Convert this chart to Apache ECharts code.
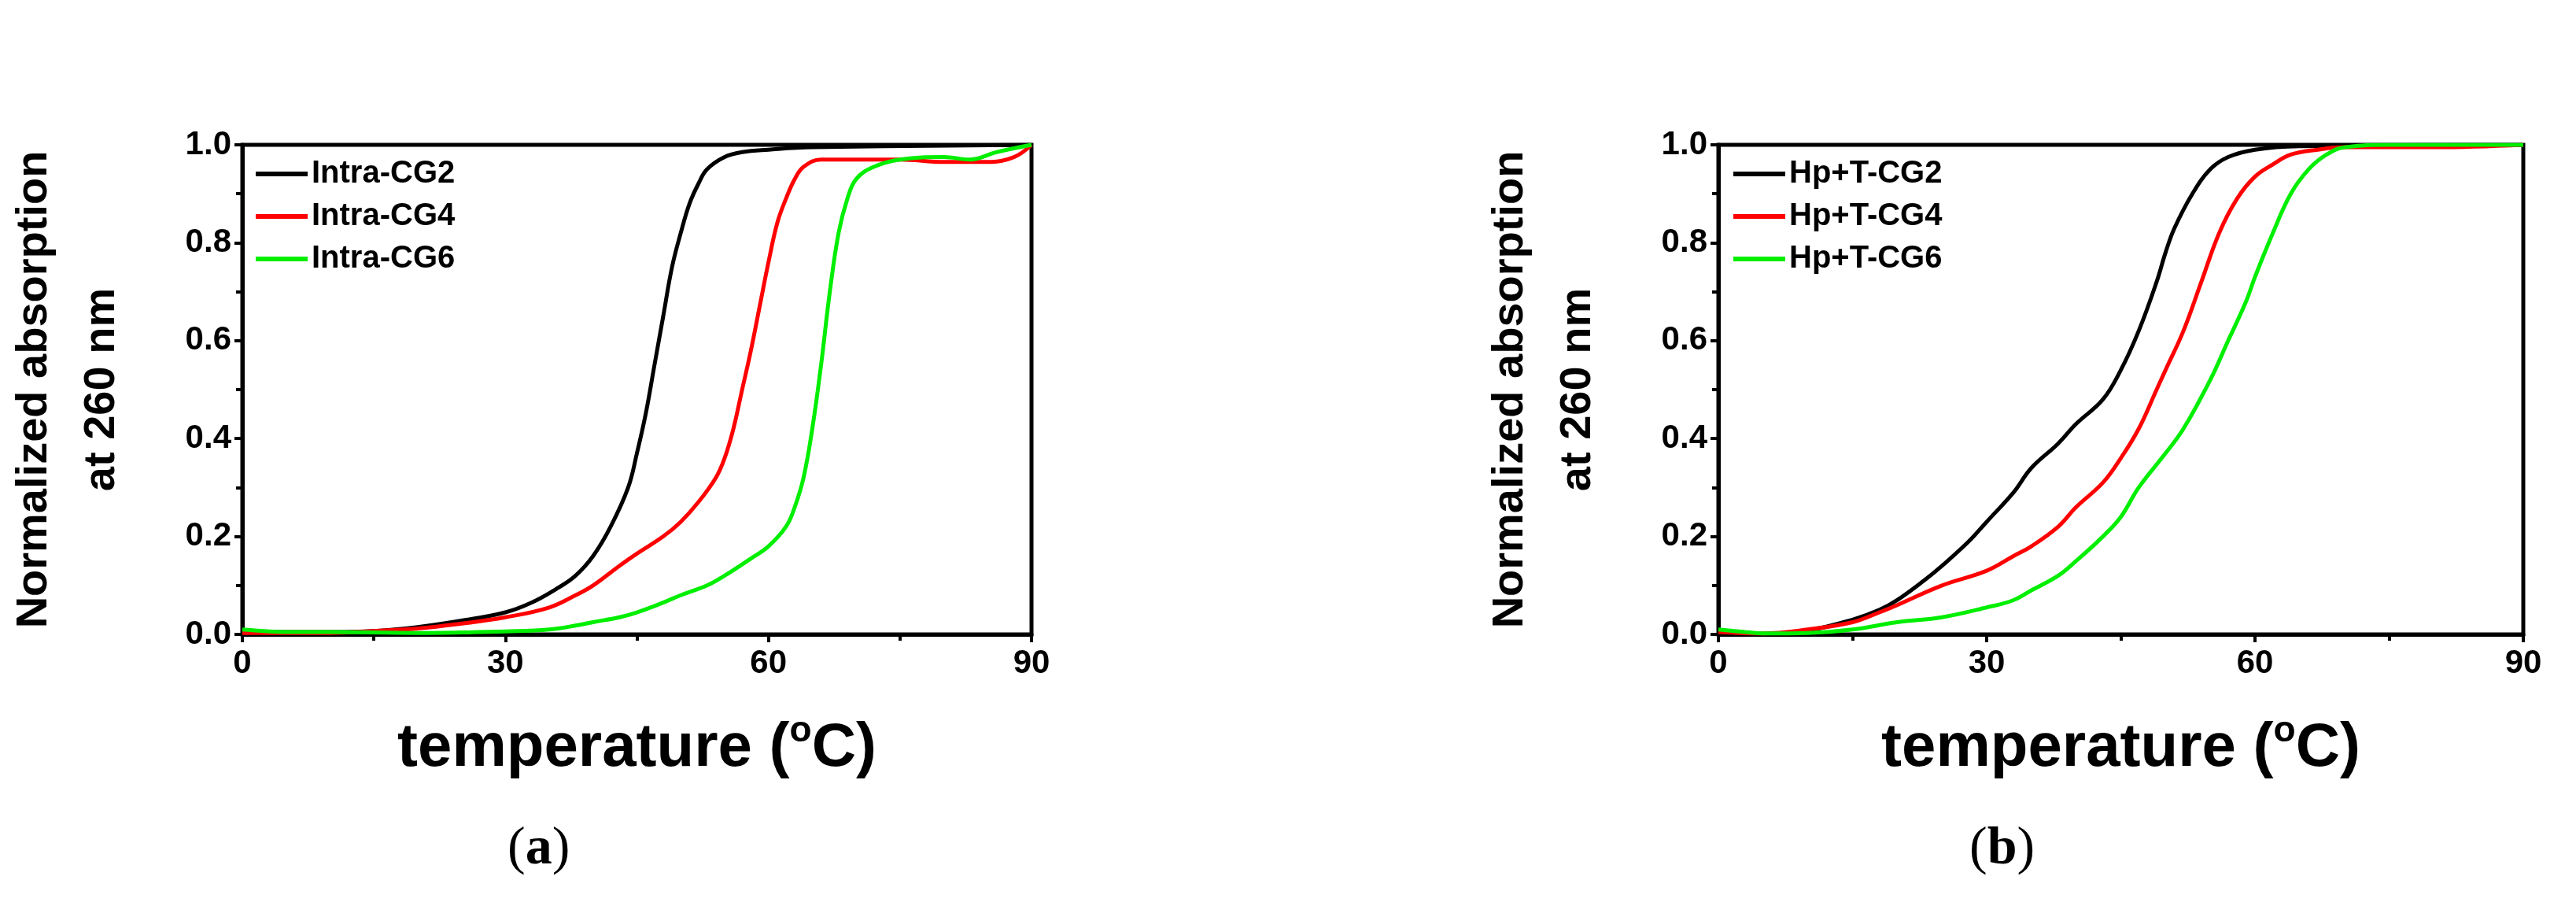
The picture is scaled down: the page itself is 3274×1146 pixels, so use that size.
<!DOCTYPE html>
<html><head><meta charset="utf-8">
<script src="https://cdn.jsdelivr.net/npm/echarts@6/dist/echarts.min.js"></script>
<style>html,body{margin:0;padding:0;background:#fff}#c{width:3274px;height:1146px}</style>
</head><body><div id="c"></div>
<script>
const namesA = ['Intra-CG2','Intra-CG4','Intra-CG6'];
const namesB = ['Hp+T-CG2','Hp+T-CG4','Hp+T-CG6'];
const colors = ['#000000','#ff0000','#00ee00'];
const xTicks = [0,30,60,90];
const a2 = [[0,0.005],[10,0.005],[15,0.007],[20,0.015],[25,0.028],[30,0.045],[33,0.065],[36,0.095],[38,0.12],[40,0.16],[42,0.22],[44,0.30],[45,0.37],[46,0.45],[47,0.55],[48,0.65],[49,0.75],[50,0.82],[51,0.88],[52,0.92],[53,0.95],[55,0.975],[57,0.985],[60,0.99],[65,0.995],[90,1.0]];
const a4 = [[0,0.003],[10,0.003],[15,0.007],[20,0.012],[25,0.022],[30,0.035],[35,0.055],[38,0.08],[40,0.1],[43,0.14],[45,0.165],[48,0.2],[50,0.23],[52,0.27],[54,0.32],[55,0.36],[56,0.42],[57,0.5],[58,0.58],[59,0.67],[60,0.76],[61,0.84],[62,0.89],[63,0.93],[64,0.955],[66,0.97],[70,0.97],[75,0.97],[80,0.965],[85,0.965],[88,0.975],[90,1.0]];
const a6 = [[0,0.01],[5,0.005],[10,0.005],[20,0.003],[25,0.004],[30,0.006],[35,0.01],[38,0.018],[40,0.025],[43,0.035],[45,0.045],[48,0.065],[50,0.08],[53,0.1],[55,0.12],[58,0.155],[60,0.18],[62,0.22],[63,0.26],[64,0.32],[65,0.42],[66,0.55],[67,0.7],[68,0.82],[69,0.89],[70,0.93],[72,0.955],[75,0.97],[80,0.975],[83,0.97],[86,0.985],[90,1.0]];
const b2 = [[0,0.005],[5,0],[10,0.008],[15,0.03],[18,0.05],[20,0.07],[23,0.11],[25,0.14],[28,0.19],[30,0.23],[33,0.29],[35,0.34],[38,0.39],[40,0.43],[43,0.48],[45,0.54],[47,0.62],[49,0.72],[50,0.78],[51,0.83],[53,0.9],[55,0.95],[57,0.975],[60,0.99],[65,0.997],[90,1.0]];
const b4 = [[0,0.005],[5,0.002],[10,0.01],[15,0.025],[18,0.045],[20,0.06],[25,0.1],[30,0.13],[33,0.16],[35,0.18],[38,0.22],[40,0.26],[43,0.31],[45,0.36],[47,0.42],[49,0.5],[50,0.54],[52,0.62],[54,0.72],[56,0.82],[58,0.89],[60,0.935],[62,0.96],[64,0.98],[67,0.99],[70,0.995],[80,0.995],[90,1.0]];
const b6 = [[0,0.01],[3,0.005],[5,0.002],[10,0.003],[15,0.01],[20,0.025],[25,0.035],[30,0.055],[33,0.07],[35,0.09],[38,0.12],[40,0.15],[43,0.2],[45,0.24],[47,0.3],[50,0.37],[52,0.42],[55,0.52],[57,0.6],[59,0.68],[60,0.73],[62,0.82],[64,0.9],[66,0.95],[68,0.98],[70,0.995],[75,1.0],[90,1.0]];

const F = 'Liberation Sans, Arial, sans-serif';
const tickLab = {fontFamily:F,fontWeight:'bold',fontSize:42,color:'#000'};
function xAx(i){return {gridIndex:i,type:'value',min:0,max:90,interval:30,
  axisLine:{lineStyle:{color:'#000',width:5}},axisTick:{length:10,lineStyle:{width:4,color:'#000'}},
  minorTick:{show:true,splitNumber:2,length:8,lineStyle:{width:4,color:'#000'}},
  splitLine:{show:false},axisLabel:Object.assign({margin:16},tickLab),
  name:'temperature ({s|o}C)',nameLocation:'middle',nameGap:100,
  nameTextStyle:{fontFamily:F,fontWeight:'bold',fontSize:78,color:'#000',rich:{s:{fontFamily:F,fontWeight:'bold',fontSize:46,verticalAlign:'top',padding:[0,0,44,0]}}}};}
function yAx(i){return {gridIndex:i,type:'value',min:0,max:1,interval:0.2,
  axisLine:{lineStyle:{color:'#000',width:5}},axisTick:{length:10,lineStyle:{width:4,color:'#000'}},
  minorTick:{show:true,splitNumber:2,length:8,lineStyle:{width:4,color:'#000'}},
  splitLine:{show:false},axisLabel:Object.assign({margin:14,formatter:v=>v.toFixed(1)},tickLab),
  name:'Normalized absorption\nat 260 nm',nameLocation:'middle',nameGap:135,
  nameTextStyle:{fontFamily:F,fontWeight:'bold',fontSize:56,lineHeight:86,color:'#000'}};}
function ser(name,data,c,i){return {name,type:'line',xAxisIndex:i,yAxisIndex:i,data,smooth:0.4,showSymbol:false,
  lineStyle:{color:c,width:5},itemStyle:{color:c}};}
function leg(names,left){return {data:names,orient:'vertical',left,top:196,itemWidth:66,itemHeight:6,itemGap:14,
  icon:'rect',textStyle:{fontFamily:F,fontWeight:'bold',fontSize:40,color:'#000'}};}
const option = {
  animation:false,backgroundColor:'#fff',
  grid:[{left:305,top:184,width:1006,height:622,show:true,borderColor:'#000',borderWidth:5,containLabel:false},
        {left:2184,top:184,width:1023,height:622,show:true,borderColor:'#000',borderWidth:5,containLabel:false}],
  xAxis:[xAx(0),xAx(1)], yAxis:[yAx(0),yAx(1)],
  legend:[leg(namesA,320),leg(namesB,2198)],
  series:[ser(namesA[0],a2,colors[0],0),ser(namesA[1],a4,colors[1],0),ser(namesA[2],a6,colors[2],0),
          ser(namesB[0],b2,colors[0],1),ser(namesB[1],b4,colors[1],1),ser(namesB[2],b6,colors[2],1)],
  graphic:[
    {type:'text',left:645,top:1045,style:{text:'({b|a})',fontFamily:'Liberation Serif, serif',fontSize:68,fill:'#000',rich:{b:{fontFamily:'Liberation Serif, serif',fontWeight:'bold',fontSize:68}}}},
    {type:'text',left:2503,top:1045,style:{text:'({b|b})',fontFamily:'Liberation Serif, serif',fontSize:68,fill:'#000',rich:{b:{fontFamily:'Liberation Serif, serif',fontWeight:'bold',fontSize:68}}}}
  ]
};
echarts.init(document.getElementById('c')).setOption(option);
</script></body></html>
